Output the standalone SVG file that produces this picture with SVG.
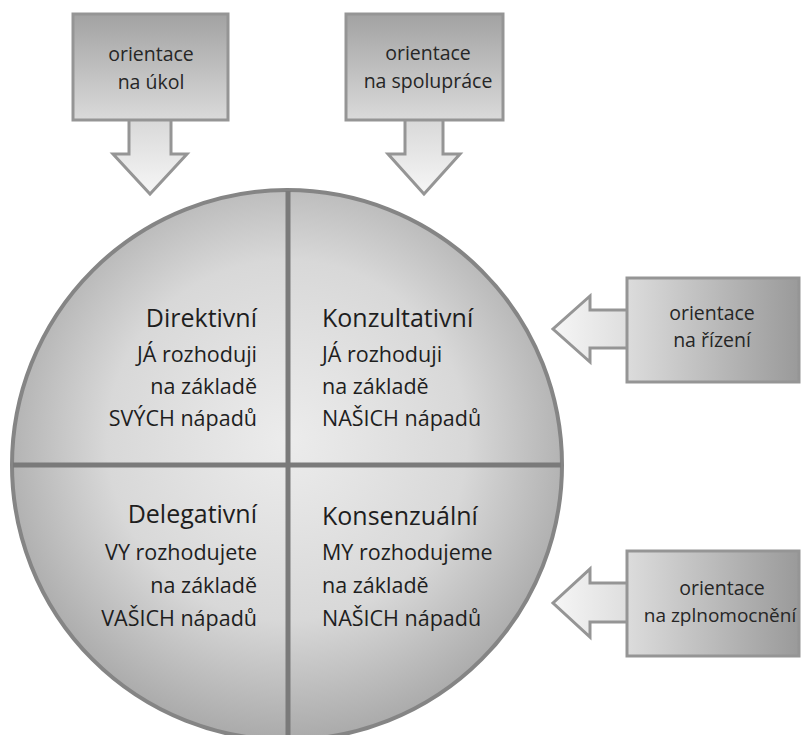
<svg xmlns="http://www.w3.org/2000/svg" width="801" height="735" viewBox="0 0 801 735">
<defs>
<radialGradient id="gCircle" cx="287" cy="440" r="300" gradientUnits="userSpaceOnUse">
<stop offset="0" stop-color="#ececec"/>
<stop offset="0.6" stop-color="#d8d8d8"/>
<stop offset="1" stop-color="#aaaaaa"/>
</radialGradient>
<linearGradient id="gBoxV" x1="0" y1="0" x2="0" y2="1">
<stop offset="0" stop-color="#a2a2a2"/>
<stop offset="1" stop-color="#dadada"/>
</linearGradient>
<linearGradient id="gBoxH" x1="0" y1="0" x2="1" y2="0">
<stop offset="0" stop-color="#dcdcdc"/>
<stop offset="1" stop-color="#9a9a9a"/>
</linearGradient>
<linearGradient id="gArrV" x1="0" y1="0" x2="0" y2="1">
<stop offset="0" stop-color="#d8d8d8"/>
<stop offset="1" stop-color="#f6f6f6"/>
</linearGradient>
<linearGradient id="gArrH" x1="1" y1="0" x2="0" y2="0">
<stop offset="0" stop-color="#dedede"/>
<stop offset="1" stop-color="#f6f6f6"/>
</linearGradient>
</defs>
<style>
.box{stroke:#959595;stroke-width:3}
.arr{stroke:#959595;stroke-width:3;stroke-linejoin:miter}
.lbl{font-family:"Open Sans","Noto Sans","DejaVu Sans",sans-serif;font-size:19.5px;fill:#262626;text-anchor:middle}
.ttl{font-family:"Open Sans","Noto Sans","DejaVu Sans",sans-serif;font-size:25px;fill:#1e1e1e}
.sub{font-family:"Open Sans","Noto Sans","DejaVu Sans",sans-serif;font-size:21.5px;fill:#1e1e1e}
.r{text-anchor:end}
.l{text-anchor:start}
.div{stroke:#7a7a7a;stroke-width:5}
</style>

<g id="circle">
<circle cx="287" cy="465" r="275" fill="url(#gCircle)" stroke="#858585" stroke-width="4"/>
</g>
<g id="connectors">
<line class="div" x1="288" y1="191" x2="288" y2="735"/>
<line class="div" x1="13" y1="465" x2="561" y2="465"/>
</g>

<g id="q-direktivni">
<text class="ttl r" x="257" y="327">Direktivní</text>
<text class="sub r" x="257" y="362">JÁ rozhoduji</text>
<text class="sub r" x="257" y="394">na základě</text>
<text class="sub r" x="257" y="426">SVÝCH nápadů</text>
</g>
<g id="q-konzultativni">
<text class="ttl l" x="322" y="327">Konzultativní</text>
<text class="sub l" x="322" y="362">JÁ rozhoduji</text>
<text class="sub l" x="322" y="394">na základě</text>
<text class="sub l" x="322" y="426">NAŠICH nápadů</text>
</g>
<g id="q-delegativni">
<text class="ttl r" x="257" y="523">Delegativní</text>
<text class="sub r" x="257" y="560">VY rozhodujete</text>
<text class="sub r" x="257" y="593">na základě</text>
<text class="sub r" x="257" y="626">VAŠICH nápadů</text>
</g>
<g id="q-konsenzualni">
<text class="ttl l" x="322" y="525">Konsenzuální</text>
<text class="sub l" x="322" y="560">MY rozhodujeme</text>
<text class="sub l" x="322" y="593">na základě</text>
<text class="sub l" x="322" y="626">NAŠICH nápadů</text>
</g>

<g id="a-ukol">
<polygon class="arr" fill="url(#gArrV)" points="129,118 171,118 171,154 187,154 150,194 113,154 129,154"/>
<rect class="box" x="73" y="14" width="155" height="106" fill="url(#gBoxV)"/>
<text class="lbl" x="151" y="61">orientace</text>
<text class="lbl" x="151" y="89">na úkol</text>
</g>
<g id="a-spoluprace">
<polygon class="arr" fill="url(#gArrV)" points="405,118 443,118 443,154 460,154 424,194 388,154 405,154"/>
<rect class="box" x="346" y="14" width="157" height="106" fill="url(#gBoxV)"/>
<text class="lbl" x="428" y="60">orientace</text>
<text class="lbl" x="428" y="88">na spolupráce</text>
</g>
<g id="a-rizeni">
<polygon class="arr" fill="url(#gArrH)" points="628,310 590,310 590,296 553,329 590,362 590,348 628,348"/>
<rect class="box" x="627" y="278" width="172" height="104" fill="url(#gBoxH)"/>
<text class="lbl" x="712" y="320">orientace</text>
<text class="lbl" x="712" y="347">na řízení</text>
</g>
<g id="a-zplnomocneni">
<polygon class="arr" fill="url(#gArrH)" points="628,583 590,583 590,569 553,603 590,637 590,622 628,622"/>
<rect class="box" x="627" y="551" width="172" height="105" fill="url(#gBoxH)"/>
<text class="lbl" x="722" y="595">orientace</text>
<text class="lbl" x="720" y="622" style="font-size:19px">na zplnomocnění</text>
</g>
</svg>
